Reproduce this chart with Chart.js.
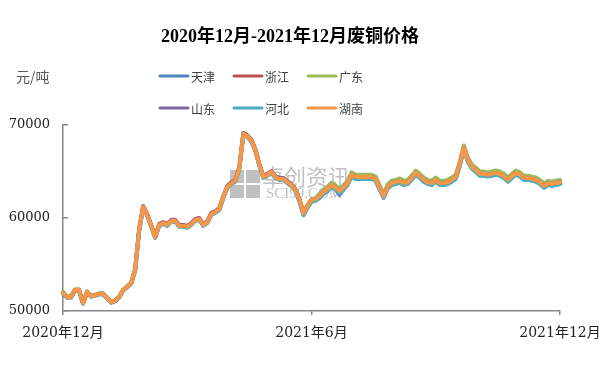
<!DOCTYPE html>
<html>
<head>
<meta charset="utf-8">
<script src="https://cdn.jsdelivr.net/npm/chart.js@4.4.0/dist/chart.umd.min.js"></script>
<style>
  html, body { margin: 0; padding: 0; background: #fff; }
  #wrap { width: 599px; height: 366px; }
</style>
</head>
<body>
<div id="wrap"><canvas id="chart" width="599" height="366"></canvas></div>
<script>
const titleText = '2020年12月-2021年12月废铜价格';
const unitText = '元/吨';
const seriesNames = ['天津', '浙江', '广东', '山东', '河北', '湖南'];
const seriesColors = ['#4F81BD', '#C0504D', '#9BBB59', '#8064A2', '#4BACC6', '#F79646'];
const xTickLabels = ['2020年12月', '2021年6月', '2021年12月'];
const xTickIndex = [0, 62, 124];
const yTicks = [50000, 60000, 70000];

// 价格 (元/吨), 约每两个交易日一个点
const tianjin = [
  51900,51450,51450,52200,52200,50800,52000,51550,51650,51800,
  51800,51350,50900,51050,51450,52200,52550,52950,54350,58650,
  61150,60300,59100,57900,59200,59400,59200,59650,59650,59100,
  59100,59000,59300,59750,59850,59200,59500,60400,60600,60900,
  62200,63300,63700,63950,65350,69000,68750,68250,67250,65650,
  64350,64600,64900,64350,64150,64150,63800,63500,62950,61800,
  60350,61150,61800,61900,62200,62650,62950,63400,63100,62500,
  63100,63600,64500,64250,64250,64250,64250,64250,64050,63100,
  62200,63200,63600,63700,63850,63600,63700,64150,64700,64350,
  63950,63700,63600,63950,63600,63600,63700,63950,64250,65650,
  67400,66100,65350,65000,64600,64600,64500,64600,64700,64600,
  64350,63950,64350,64700,64500,64150,64150,64050,63950,63700,
  63300,63600,63500,63600,63700
];
const zhejiang = [
  51950,51500,51500,52250,52250,50850,52050,51600,51700,51850,
  51850,51400,50950,51100,51500,52250,52600,53000,54500,58800,
  61300,60450,59250,58050,59350,59550,59350,59800,59800,59250,
  59250,59150,59450,59900,60000,59350,59650,60550,60750,61050,
  62350,63450,63850,64100,65500,69150,68900,68400,67400,65800,
  64500,64750,65050,64500,64300,64300,63950,63650,63100,62000,
  60550,61350,62000,62100,62400,62850,63150,63600,63300,62950,
  63300,63800,64700,64450,64450,64450,64450,64450,64250,63300,
  62400,63400,63800,63900,64050,63800,63900,64350,64900,64550,
  64150,63900,63800,64150,63800,63800,63900,64150,64450,65850,
  67600,66300,65550,65200,64800,64800,64700,64800,64900,64800,
  64550,64150,64550,64900,64700,64350,64350,64250,64150,63900,
  63500,63800,63700,63800,63900
];
const guangdong = [
  52050,51600,51600,52350,52350,50900,52100,51650,51750,51900,
  51900,51450,51000,51150,51550,52300,52650,53050,54400,58700,
  61200,60350,59150,57950,59250,59450,59250,59700,59700,59150,
  59150,59050,59350,59800,59900,59250,59550,60450,60650,60950,
  62250,63350,63750,64000,65400,69050,68800,68300,67300,65700,
  64400,64650,64950,64400,64200,64200,63850,63550,63000,62000,
  60550,61350,62000,62100,62600,63050,63350,63800,63500,63150,
  63500,64000,64900,64650,64650,64650,64650,64650,64450,63500,
  62600,63600,64000,64100,64250,64000,64100,64550,65100,64750,
  64350,64100,64000,64350,64000,64000,64100,64350,64650,66050,
  67800,66500,65750,65400,65000,65000,64900,65000,65100,65000,
  64750,64350,64750,65100,64900,64550,64550,64450,64350,64100,
  63700,64000,63900,64000,64100
];
const shandong = [
  51950,51500,51500,52250,52250,50850,52050,51600,51700,51850,
  51850,51400,50950,51100,51500,52250,52600,53000,54450,58750,
  61250,60400,59200,58000,59300,59500,59300,59750,59750,59200,
  59200,59100,59400,59850,59950,59300,59600,60500,60700,61000,
  62300,63400,63800,64050,65450,69100,68850,68350,67350,65750,
  64450,64700,65000,64450,64250,64250,63900,63600,63050,61950,
  60500,61300,61950,62050,62350,62800,63100,63550,63250,62900,
  63250,63750,64650,64400,64400,64400,64400,64400,64200,63250,
  62350,63350,63750,63850,64000,63750,63850,64300,64850,64500,
  64100,63850,63750,64100,63750,63750,63850,64100,64400,65800,
  67550,66250,65500,65150,64750,64750,64650,64750,64850,64750,
  64500,64100,64500,64850,64650,64300,64300,64200,64100,63850,
  63450,63750,63650,63750,63850
];
const hebei = [
  51900,51450,51450,52200,52200,50800,52000,51550,51650,51800,
  51800,51350,50900,51050,51450,52200,52550,52950,54300,58600,
  61100,60250,59050,57850,59150,59350,59150,59600,59600,59050,
  59050,58950,59250,59700,59800,59150,59450,60350,60550,60850,
  62150,63250,63650,63900,65300,68950,68700,68200,67200,65600,
  64300,64550,64850,64300,64100,64100,63750,63450,62900,61750,
  60300,61100,61750,61850,62150,62600,62900,63350,63050,62700,
  63050,63550,64450,64200,64200,64200,64200,64200,64000,63050,
  62150,63150,63550,63650,63800,63550,63650,64100,64650,64300,
  63900,63650,63550,63900,63550,63550,63650,63900,64200,65600,
  67350,66050,65300,64950,64550,64550,64450,64550,64650,64550,
  64300,63900,64300,64650,64450,64100,64100,64000,63900,63650,
  63250,63550,63450,63550,63650
];
const hunan = [
  51950,51500,51500,52250,52250,50850,52050,51600,51700,51850,
  51850,51400,50950,51100,51500,52250,52600,53000,54400,58700,
  61200,60350,59150,57950,59250,59450,59250,59700,59700,59150,
  59150,59050,59350,59800,59900,59250,59550,60450,60650,60950,
  62250,63350,63750,64000,65400,69050,68800,68300,67300,65700,
  64400,64650,64950,64400,64200,64200,63850,63550,63000,61950,
  60500,61300,61950,62050,62350,62800,63100,63550,63250,62900,
  63250,63750,64650,64400,64400,64400,64400,64400,64200,63250,
  62350,63350,63750,63850,64000,63750,63850,64300,64850,64500,
  64100,63850,63750,64100,63750,63750,63850,64100,64400,65800,
  67550,66250,65500,65150,64750,64750,64650,64750,64850,64750,
  64500,64100,64500,64850,64650,64300,64300,64200,64100,63850,
  63450,63750,63650,63750,63850
];

const seriesData = [tianjin, zhejiang, guangdong, shandong, hebei, hunan];
const categories = hunan.map((_, i) => i);

// 标题、单位、图例、水印
const decorPlugin = {
  id: 'decor',
  beforeDatasetsDraw(chart) {
    const ctx = chart.ctx;
    ctx.save();
    ctx.fillStyle = 'rgba(150,150,150,0.6)';
    ctx.fillRect(230, 170, 14, 13);
    ctx.fillRect(246, 170, 14, 13);
    ctx.fillRect(230, 185, 14, 13);
    ctx.fillRect(246, 185, 14, 13);
    ctx.textBaseline = 'middle';
    ctx.textAlign = 'left';
    ctx.font = '22px "Noto Sans CJK SC"';
    ctx.fillText('卓创资讯', 262, 177);
    ctx.font = '15px "Liberation Serif"';
    ctx.fillText('SCI99.COM', 266, 194);
    ctx.restore();
  },
  afterDraw(chart) {
    const ctx = chart.ctx;
    ctx.save();
    ctx.textBaseline = 'middle';
    ctx.textAlign = 'center';
    ctx.fillStyle = '#000';
    ctx.font = 'bold 18px "Liberation Serif", "Noto Sans CJK SC"';
    ctx.fillText(titleText, 290, 37);

    ctx.textAlign = 'left';
    ctx.fillStyle = '#595959';
    ctx.font = '14px "Noto Sans CJK SC"';
    ctx.fillText(unitText, 16, 77);

    ctx.font = '12px "Noto Sans CJK SC"';
    chart.data.datasets.forEach((ds, i) => {
      const x = 159 + (i % 3) * 74;
      const y = 76 + Math.floor(i / 3) * 32;
      ctx.strokeStyle = ds.borderColor;
      ctx.lineWidth = 3;
      ctx.lineCap = 'round';
      ctx.beginPath();
      ctx.moveTo(x + 1, y);
      ctx.lineTo(x + 29, y);
      ctx.stroke();
      ctx.fillStyle = '#404040';
      ctx.fillText(ds.label, x + 32, y + 1);
    });
    ctx.restore();
  }
};

new Chart(document.getElementById('chart'), {
  type: 'line',
  data: {
    labels: categories,
    datasets: seriesNames.map((name, i) => ({
      label: name,
      data: seriesData[i],
      borderColor: seriesColors[i],
      backgroundColor: seriesColors[i],
      borderWidth: 4,
      pointRadius: 0,
      pointHoverRadius: 0,
      tension: 0,
      borderJoinStyle: 'round',
      borderCapStyle: 'round',
      order: seriesNames.length - 1 - i
    }))
  },
  options: {
    responsive: false,
    animation: false,
    devicePixelRatio: 1,
    layout: { padding: { top: 125, right: 39, left: 0, bottom: 0 } },
    plugins: {
      legend: { display: false },
      title: { display: false },
      tooltip: { enabled: false }
    },
    scales: {
      x: {
        type: 'category',
        offset: false,
        border: { color: '#868686', width: 1.5 },
        grid: { drawOnChartArea: false, drawTicks: true, tickLength: 4, color: '#868686', lineWidth: 1.5 },
        afterBuildTicks: s => { s.ticks = xTickIndex.map(v => ({ value: v })); },
        afterFit: s => { s.height = 55; s.paddingLeft = 0; s.paddingRight = 0; },
        ticks: {
          autoSkip: false,
          maxRotation: 0,
          padding: 10,
          color: '#222',
          font: { family: '"DejaVu Serif", "Noto Sans CJK SC"', size: 14 },
          callback: value => {
            const i = xTickIndex.indexOf(value);
            return i >= 0 ? xTickLabels[i] : '';
          }
        }
      },
      y: {
        min: 50000,
        max: 70000,
        border: { color: '#868686', width: 1.5 },
        grid: { drawOnChartArea: false, drawTicks: true, tickLength: -5, color: '#868686', lineWidth: 1.5 },
        afterBuildTicks: s => { s.ticks = yTicks.map(v => ({ value: v })); },
        afterFit: s => { s.width = 63; },
        ticks: {
          padding: 18,
          color: '#222',
          font: { family: '"DejaVu Serif"', size: 13 },
          callback: value => String(value)
        }
      }
    }
  },
  plugins: [decorPlugin]
});
</script>
</body>
</html>
